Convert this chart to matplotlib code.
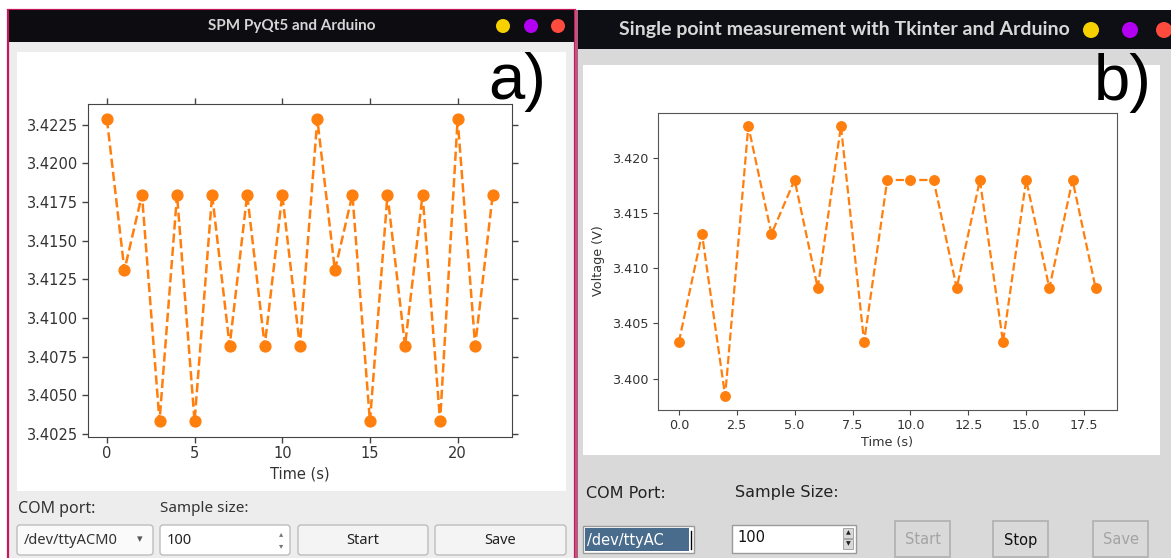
import matplotlib
matplotlib.use("Agg")
import matplotlib.pyplot as plt
from matplotlib.patches import Rectangle, FancyBboxPatch, Circle

# ---- data ----
# a) SPM PyQt5 window
time_a = list(range(23))
volt_a = [3.42285, 3.41309, 3.41797, 3.40332, 3.41797, 3.40332, 3.41797, 3.40820,
          3.41797, 3.40820, 3.41797, 3.40820, 3.42285, 3.41309, 3.41797, 3.40332,
          3.41797, 3.40820, 3.41797, 3.40332, 3.42285, 3.40820, 3.41797]
xticks_a = [0, 5, 10, 15, 20]
yticks_a = [3.4025, 3.4050, 3.4075, 3.4100, 3.4125, 3.4150, 3.4175, 3.4200, 3.4225]
ylabels_a = ["3.4025", "3.4050", "3.4075", "3.4100", "3.4125", "3.4150", "3.4175", "3.4200", "3.4225"]

# b) Tkinter window
time_b = list(range(19))
volt_b = [3.40332, 3.41309, 3.39844, 3.42285, 3.41309, 3.41797, 3.40820, 3.42285,
          3.40332, 3.41797, 3.41797, 3.41797, 3.40820, 3.41797, 3.40332, 3.41797,
          3.40820, 3.41797, 3.40820]
xticks_b = [0.0, 2.5, 5.0, 7.5, 10.0, 12.5, 15.0, 17.5]
xlabels_b = ["0.0", "2.5", "5.0", "7.5", "10.0", "12.5", "15.0", "17.5"]
yticks_b = [3.400, 3.405, 3.410, 3.415, 3.420]
ylabels_b = ["3.400", "3.405", "3.410", "3.415", "3.420"]

ORANGE = "#ff7f0e"
W, H = 1171, 558

fig = plt.figure(figsize=(W / 100, H / 100), dpi=100)
fig.patch.set_facecolor("white")

# background layer in pixel coordinates (y down)
bg = fig.add_axes([0, 0, 1, 1], zorder=0)
bg.set_xlim(0, W)
bg.set_ylim(H, 0)
bg.axis("off")


def box(x0, y0, x1, y1, fc, ec="none", lw=1.0, r=0):
    if r:
        p = FancyBboxPatch((x0, y0), x1 - x0, y1 - y0,
                           boxstyle="round,pad=0,rounding_size=%g" % r,
                           fc=fc, ec=ec, lw=lw)
    else:
        p = Rectangle((x0, y0), x1 - x0, y1 - y0, fc=fc, ec=ec, lw=lw)
    bg.add_patch(p)


def txt(x, y, s, size, color="#333333", ha="left", weight="normal", family="Noto Sans", va="center"):
    bg.text(x, y, s, fontsize=size, color=color, ha=ha, va=va,
            fontweight=weight, family=family)


# ---------- left window (PyQt5) ----------
box(8, 10, 575, 560, "#ededed", ec="#c8175a", lw=1.6)
box(9, 10, 574, 42, "#0d0d11")
txt(292, 26, "SPM PyQt5 and Arduino", 11, color="#d6d6d6", ha="center", weight="bold", family="Lato")
for cx, c in [(503, "#f7d000"), (531, "#b400f2"), (558, "#ff4b3e")]:
    bg.add_patch(Circle((cx, 26), 7, fc=c, ec="none"))
box(17, 52, 566, 491, "white")
txt(488, 99, "a)", 47, color="black", family="Liberation Sans", va="baseline")

txt(18, 509, "COM port:", 11.5)
txt(160, 509, "Sample size:", 11)
box(17, 525, 153, 555, "#fafafa", ec="#bdbdbd", r=3)
txt(24, 540, "/dev/ttyACM0", 10.5)
txt(140, 539, "▾", 8, color="#555555", ha="center", family="DejaVu Sans")
box(160, 525, 290, 555, "white", ec="#bdbdbd", r=3)
txt(167, 541, "100", 10.5, color="#222222")
txt(281, 534, "▴", 6, color="#777777", ha="center", family="DejaVu Sans")
txt(281, 546, "▾", 6, color="#777777", ha="center", family="DejaVu Sans")
box(298, 525, 428, 555, "#f4f4f4", ec="#bdbdbd", r=3)
txt(363, 540, "Start", 10.5, ha="center", color="#222222")
box(435, 525, 566, 555, "#f4f4f4", ec="#bdbdbd", r=3)
txt(500, 540, "Save", 10.5, ha="center", color="#222222")

# ---------- right window (Tkinter) ----------
box(576, 10, 1172, 560, "#d9d9d9")
box(574.5, 10, 578, 560, "#b9587f")
box(578, 10, 1172, 49, "#0e0f14")
txt(844, 30, "Single point measurement with Tkinter and Arduino", 14, color="#d8d8d8",
    ha="center", weight="bold", family="Lato")
for cx, c in [(1091, "#f7d000"), (1130, "#b400f2"), (1164, "#ff4b3e")]:
    bg.add_patch(Circle((cx, 30), 8, fc=c, ec="none"))
box(583, 65, 1160, 455, "white")
txt(1094, 100, "b)", 47, color="black", family="Liberation Sans", va="baseline")

txt(586, 493, "COM Port:", 11.5, color="#222222", family="DejaVu Sans")
txt(735, 493, "Sample Size:", 11.5, color="#222222", family="DejaVu Sans")
box(583, 526, 694, 553, "white", ec="#9a9a9a")
box(585, 528, 689, 551, "#4a6c8c")
txt(587, 540, "/dev/ttyAC", 10.5, color="white", family="DejaVu Sans")
bg.plot([690.5, 690.5], [531, 549], color="black", lw=1)
box(732, 525, 856, 553, "white", ec="#9a9a9a")
txt(737, 538, "100", 10.5, color="#111111", family="DejaVu Sans")
box(843, 528, 853, 538, "#d9d9d9", ec="#9a9a9a", lw=0.6)
box(843, 539, 853, 549, "#d9d9d9", ec="#9a9a9a", lw=0.6)
txt(848, 533, "▲", 4.5, color="#222222", ha="center", family="DejaVu Sans")
txt(848, 544, "▼", 4.5, color="#222222", ha="center", family="DejaVu Sans")
for x0, label, col in [(895, "Start", "#a3a3a3"), (993, "Stop", "#111111"), (1093, "Save", "#a3a3a3")]:
    box(x0, 521, x0 + 55, 557, "#d9d9d9", ec="#b0b0b0", lw=1.2)
    txt(x0 + 27.5, 540, label, 10.5, color=col, ha="center", family="DejaVu Sans")

# ---------- plot a ----------
ax1 = fig.add_axes([87.6 / W, (H - 436.5) / H, 424.4 / W, 332.5 / H], zorder=2)
ax1.plot(time_a, volt_a, "o--", color=ORANGE, lw=1.8, ms=7.8)
ax1.set_xlim(-1.1, 23.1)
ax1.set_ylim(3.40234, 3.42383)
ax1.set_xticks(xticks_a)
ax1.set_yticks(yticks_a)
ax1.set_yticklabels(ylabels_a)
ax1.tick_params(direction="out", top=True, right=True, length=4, width=1,
                labelsize=10.5, labelcolor="#333333", color="#444444", pad=3)
ax1.set_xlabel("Time (s)", fontsize=10.5, color="#333333", labelpad=4)
for s in ax1.spines.values():
    s.set_color("#444444")

# ---------- plot b ----------
ax2 = fig.add_axes([658 / W, (H - 409.5) / H, 458.5 / W, 297 / H], zorder=2)
ax2.plot(time_b, volt_b, "o--", color=ORANGE, lw=1.6, ms=6.8)
ax2.set_xlim(-0.9, 18.9)
ax2.set_ylim(3.39722, 3.42407)
ax2.set_xticks(xticks_b)
ax2.set_xticklabels(xlabels_b)
ax2.set_yticks(yticks_b)
ax2.set_yticklabels(ylabels_b)
ax2.tick_params(direction="out", length=3.5, labelsize=9.2, labelcolor="#333333",
                color="#444444", pad=3.5)
ax2.set_xlabel("Time (s)", fontsize=9.2, color="#333333", labelpad=3)
ax2.set_ylabel("Voltage (V)", fontsize=9.2, color="#333333", labelpad=5)
for s in ax2.spines.values():
    s.set_color("#555555")

fig.savefig("out.png", dpi=100)
